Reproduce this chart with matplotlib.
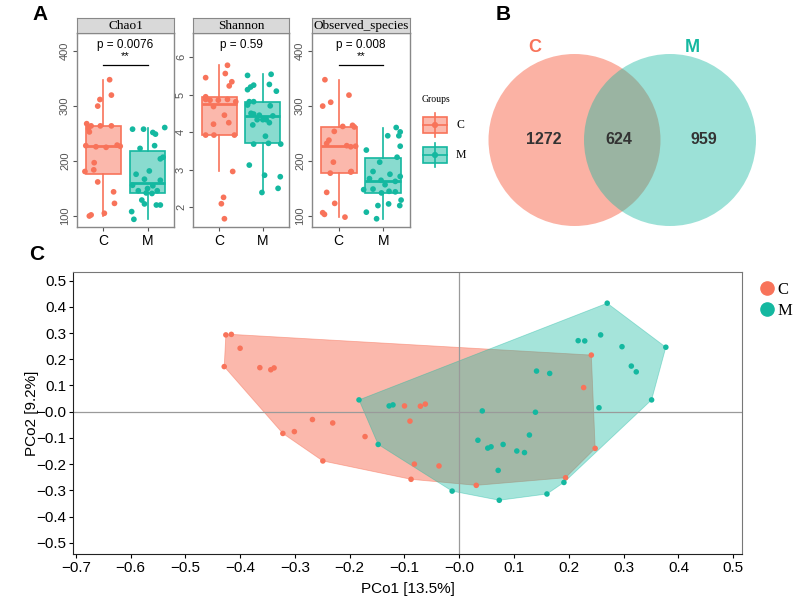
import numpy as np
import matplotlib.pyplot as plt
from matplotlib.colors import to_rgb
from matplotlib.patches import Circle, Rectangle, Polygon
from matplotlib.lines import Line2D

plt.rcParams["font.family"] = ["Liberation Sans", "DejaVu Sans"]

C_COL = "#F8735A"
M_COL = "#14B8A0"
SERIF = ["Liberation Serif", "DejaVu Serif"]
groups = ["C", "M"]

# ---- panel A: alpha diversity, (jitter offset, value) per group ----
chao1_c_off = [0.14, -0.08, 0.18, -0.13, -0.38, -0.34, -0.28, -0.07, 0.18, -0.32, -0.40, -0.17,
               0.06, 0.31, 0.38, -0.21, -0.42, -0.22, -0.13, 0.23, 0.25, 0.02, -0.32, -0.28]
chao1_c_val = [348, 312, 320, 300, 268, 259, 264, 264, 264, 253, 228, 226,
               225, 229, 227, 197, 181, 184, 162, 144, 123, 105, 100, 102]
chao1_m_off = [0.39, -0.34, -0.09, 0.18, 0.12, -0.17, 0.16, 0.35, 0.29, 0.04, -0.26, 0.29, -0.07,
               -0.34, 0.12, 0.0, 0.22, -0.21, 0.10, -0.03, -0.13, -0.07, 0.20, 0.29, -0.36, -0.31]
chao1_m_val = [261, 258, 258, 249, 252, 223, 228, 207, 204, 182, 176, 165, 167,
               156, 155, 150, 146, 146, 141, 142, 129, 122, 120, 120, 108, 94]

shannon_c_off = [0.19, 0.14, -0.31, 0.29, 0.23, -0.31, -0.31, -0.21, -0.02, 0.19, 0.38,
                 -0.13, 0.12, 0.22, -0.13, -0.31, -0.12, 0.35, 0.31, 0.10, 0.05, 0.12]
shannon_c_val = [5.78, 5.56, 5.45, 5.34, 5.23, 4.94, 4.87, 4.85, 4.85, 4.87, 4.81,
                 4.68, 4.45, 4.25, 4.21, 3.92, 3.92, 3.92, 2.95, 2.26, 2.09, 1.69]
shannon_m_off = [-0.35, 0.19, -0.21, -0.28, -0.35, 0.15, 0.31, -0.31, -0.21, -0.35, 0.17, -0.27,
                 -0.21, -0.08, -0.13, 0.08, 0.0, 0.23, -0.23, 0.15, 0.06, -0.21, 0.13, 0.41,
                 -0.31, 0.04, 0.40, 0.35, -0.02]
shannon_m_val = [5.51, 5.54, 5.25, 5.20, 5.13, 5.27, 5.09, 4.81, 4.81, 4.72, 4.70, 4.50,
                 4.48, 4.45, 4.33, 4.33, 4.33, 4.43, 4.19, 4.25, 3.89, 3.68, 3.70, 3.68,
                 3.12, 2.85, 2.81, 2.50, 2.39]

obs_c_off = [-0.31, -0.36, -0.18, 0.23, 0.09, 0.31, 0.35, -0.10, -0.22, -0.27, 0.18,
             0.27, 0.38, -0.12, -0.19, 0.28, 0.27, -0.27, -0.09, -0.36, -0.32, 0.14]
obs_c_val = [348, 300, 307, 320, 263, 265, 262, 254, 238, 232, 228,
             226, 227, 198, 178, 181, 180, 143, 123, 106, 103, 98]
obs_m_off = [0.29, 0.38, 0.10, 0.35, 0.38, -0.38, 0.31, -0.08, -0.23, 0.15, 0.38, -0.05, -0.31,
             0.27, 0.04, -0.23, -0.44, 0.13, -0.04, 0.27, 0.40, -0.12, 0.12, 0.37, -0.38, -0.15]
obs_m_val = [261, 253, 246, 246, 227, 220, 207, 198, 181, 176, 172, 165, 168,
             163, 157, 149, 148, 145, 142, 144, 129, 119, 122, 119, 107, 95]

alpha_titles = ["Chao1", "Shannon", "Observed_species"]
alpha_pvals = ["p = 0.0076", "p = 0.59", "p = 0.008"]
alpha_stars = ["**", None, "**"]
alpha_yticks = [[100, 200, 300, 400], [2, 3, 4, 5, 6], [100, 200, 300, 400]]
alpha_ylim = [(80, 433), (1.47, 6.64), (80, 433)]

# ---- panel B: venn counts ----
venn_sets = ["C", "M"]
venn_counts = [1272, 624, 959]

# ---- panel C: PCoA coordinates ----
pc_c_x = [-0.426, -0.416, -0.400, -0.429, -0.364, -0.344, -0.338, -0.268, -0.231, -0.322, -0.301,
          -0.172, -0.249, -0.100, -0.071, -0.062, -0.090, -0.082, -0.037, -0.088, 0.031, 0.241,
          0.227, 0.248, 0.194]
pc_c_y = [0.293, 0.295, 0.242, 0.172, 0.168, 0.160, 0.167, -0.030, -0.043, -0.083, -0.076,
          -0.095, -0.188, 0.022, 0.021, 0.029, -0.036, -0.200, -0.207, -0.258, -0.281, 0.216,
          0.092, -0.140, -0.252]
pc_m_x = [-0.183, -0.128, -0.121, -0.148, -0.013, 0.034, 0.270, 0.377, 0.351, 0.258, 0.217,
          0.229, 0.297, 0.314, 0.323, 0.141, 0.165, 0.255, 0.042, 0.139, 0.128, 0.052, 0.058,
          0.080, 0.105, 0.119, 0.071, 0.191, 0.160, 0.073]
pc_m_y = [0.045, 0.022, 0.026, -0.125, -0.303, -0.109, 0.414, 0.246, 0.045, 0.293, 0.271,
          0.270, 0.248, 0.174, 0.152, 0.155, 0.146, 0.015, 0.003, -0.002, -0.089, -0.139, -0.134,
          -0.125, -0.150, -0.156, -0.224, -0.270, -0.314, -0.338]
pc_xticks = np.round(np.arange(-0.7, 0.51, 0.1), 1)
pc_yticks = np.round(np.arange(-0.5, 0.51, 0.1), 1)


def px_axes(fig, left, top, right, bottom):
    W, H = 800, 600
    return fig.add_axes([left / W, 1 - bottom / H, (right - left) / W, (bottom - top) / H])


def convex_hull(xs, ys):
    pts = sorted(set(zip(xs, ys)))

    def cross(o, a, b):
        return (a[0] - o[0]) * (b[1] - o[1]) - (a[1] - o[1]) * (b[0] - o[0])

    lower, upper = [], []
    for p in pts:
        while len(lower) >= 2 and cross(lower[-2], lower[-1], p) <= 0:
            lower.pop()
        lower.append(p)
    for p in reversed(pts):
        while len(upper) >= 2 and cross(upper[-2], upper[-1], p) <= 0:
            upper.pop()
        upper.append(p)
    return lower[:-1] + upper[:-1]


fig = plt.figure(figsize=(8, 6), dpi=100)

# ---------------- A ----------------
alpha_data = [
    [(chao1_c_off, chao1_c_val), (chao1_m_off, chao1_m_val)],
    [(shannon_c_off, shannon_c_val), (shannon_m_off, shannon_m_val)],
    [(obs_c_off, obs_c_val), (obs_m_off, obs_m_val)],
]
panel_px = [(77, 174), (193, 289), (312, 410)]

for i, (l, r) in enumerate(panel_px):
    ax = px_axes(fig, l, 33, r, 227)
    for j, (off, val) in enumerate(alpha_data[i]):
        col = [C_COL, M_COL][j]
        bp = ax.boxplot(val, positions=[j + 1], widths=0.8, patch_artist=True,
                        showfliers=False, whis=1.5, manage_ticks=False,
                        boxprops=dict(facecolor=(*to_rgb(col), 0.5), edgecolor=col, linewidth=1.2),
                        whiskerprops=dict(color=col, linewidth=1.2),
                        capprops=dict(linewidth=0),
                        medianprops=dict(color=col, linewidth=2.0))
        ax.scatter(np.array(off) + j + 1, val, s=17, color=col, zorder=3, edgecolors="none")
    ax.set_xlim(0.4, 2.6)
    ax.set_ylim(*alpha_ylim[i])
    ax.set_xticks([1, 2])
    ax.set_xticklabels(groups, fontsize=10)
    ax.set_yticks(alpha_yticks[i])
    ax.set_yticklabels([str(t) for t in alpha_yticks[i]], rotation=90, va="center",
                       fontsize=8, color="#555555")
    ax.tick_params(length=3, color="#555555", width=0.8, pad=2)
    for s in ax.spines.values():
        s.set_color("#888888")
        s.set_linewidth(1.0)

    ax.text(0.5, 0.938, alpha_pvals[i], transform=ax.transAxes, ha="center", va="center",
            fontsize=8.5)
    if alpha_stars[i]:
        ax.text(0.5, 0.88, alpha_stars[i], transform=ax.transAxes, ha="center", va="center",
                fontsize=8)
        ax.plot([1, 2], [0.835, 0.835], color="black", lw=0.9,
                transform=ax.get_xaxis_transform())

    sax = px_axes(fig, l, 18, r, 33)
    sax.set_facecolor("#D9D9D9")
    sax.set_xticks([])
    sax.set_yticks([])
    for s in sax.spines.values():
        s.set_color("#888888")
    sax.text(0.5, 0.45, alpha_titles[i], ha="center", va="center", fontsize=9.5,
             family=SERIF, transform=sax.transAxes)

# legend for A
lax = px_axes(fig, 415, 92, 480, 172)
lax.set_xlim(415, 480)
lax.set_ylim(172, 92)
lax.axis("off")
lax.text(422, 100, "Groups", fontsize=7, family=SERIF, va="center")
for k, (g, col) in enumerate(zip(groups, [C_COL, M_COL])):
    yc = 125 + 30 * k
    lax.plot([435, 435], [yc - 12, yc + 12], color=col, lw=1.2)
    lax.add_patch(Rectangle((423, yc - 8), 24, 16, facecolor=(*to_rgb(col), 0.5),
                            edgecolor=col, lw=1.2))
    lax.plot([423, 447], [yc, yc], color=col, lw=1.2)
    lax.scatter([435], [yc], s=20, color=col, zorder=3, edgecolors="none")
    lax.text(456, yc, g, fontsize=8.5, family=SERIF, va="center")

# ---------------- B ----------------
vax = px_axes(fig, 480, 20, 800, 240)
vax.set_xlim(480, 800)
vax.set_ylim(240, 20)
vax.axis("off")
venn_r = 86
venn_cy = 140
venn_cx = [574.5, 670]
vax.add_patch(Circle((venn_cx[0], venn_cy), venn_r, facecolor=C_COL, alpha=0.55, edgecolor="none"))
vax.add_patch(Circle((venn_cx[1], venn_cy), venn_r, facecolor=M_COL, alpha=0.42, edgecolor="none"))
vax.text(535, 47, venn_sets[0], color=C_COL, fontsize=13, weight="bold", ha="center", va="center")
vax.text(692, 47, venn_sets[1], color=M_COL, fontsize=13, weight="bold", ha="center", va="center")
mid = (venn_cx[0] + venn_cx[1]) / 2
for xpos, n in zip([544, mid - 3, 704], venn_counts):
    vax.text(xpos, venn_cy, str(n), fontsize=11.5, weight="bold", color="#333333",
             ha="center", va="center")

# ---------------- C ----------------
pax = px_axes(fig, 73, 272, 742, 554)
hull_c = convex_hull(pc_c_x, pc_c_y)
hull_m = convex_hull(pc_m_x, pc_m_y)
pax.add_patch(Polygon(hull_c, closed=True, facecolor=C_COL, alpha=0.5, edgecolor=C_COL, lw=0.6))
pax.add_patch(Polygon(hull_m, closed=True, facecolor=M_COL, alpha=0.38, edgecolor=M_COL, lw=0.6))
pax.axhline(0, color="#9A9A9A", lw=0.9, zorder=1.5)
pax.axvline(0, color="#9A9A9A", lw=0.9, zorder=1.5)
pax.scatter(pc_c_x, pc_c_y, s=16, color=C_COL, edgecolors="none", zorder=3)
pax.scatter(pc_m_x, pc_m_y, s=16, color=M_COL, edgecolors="none", zorder=3)
pax.set_xlim(-0.705, 0.516)
pax.set_ylim(-0.543, 0.533)
pax.set_xticks(pc_xticks)
pax.set_xticklabels([f"{t:.1f}".replace("-", "\u2212") for t in pc_xticks], fontsize=11)
pax.set_yticks(pc_yticks)
pax.set_yticklabels([f"{t:.1f}".replace("-", "\u2212") for t in pc_yticks], fontsize=11)
pax.tick_params(length=3, width=0.8, pad=2)
pax.set_xlabel("PCo1 [13.5%]", fontsize=11, labelpad=5)
pax.set_ylabel("PCo2 [9.2%]", fontsize=11, labelpad=-2)
for side in ["top", "right"]:
    pax.spines[side].set_color("#777777")
for side in ["left", "bottom"]:
    pax.spines[side].set_color("#222222")

handles = [Line2D([], [], marker="o", ls="none", color=c, markersize=9.5) for c in [C_COL, M_COL]]
fig.legend(handles, groups, loc="upper left", bbox_to_anchor=(745 / 800, 1 - 270 / 600),
           frameon=False, prop={"family": SERIF, "size": 12}, handletextpad=0.05,
           labelspacing=0.3, borderpad=0.2, handlelength=1.2)

# panel letters
fig.text(40 / 800, 1 - 15 / 600, "A", fontsize=15, weight="bold", ha="center", va="center")
fig.text(503 / 800, 1 - 15 / 600, "B", fontsize=15, weight="bold", ha="center", va="center")
fig.text(37 / 800, 1 - 255 / 600, "C", fontsize=15, weight="bold", ha="center", va="center")

fig.savefig("out.png", dpi=100)
